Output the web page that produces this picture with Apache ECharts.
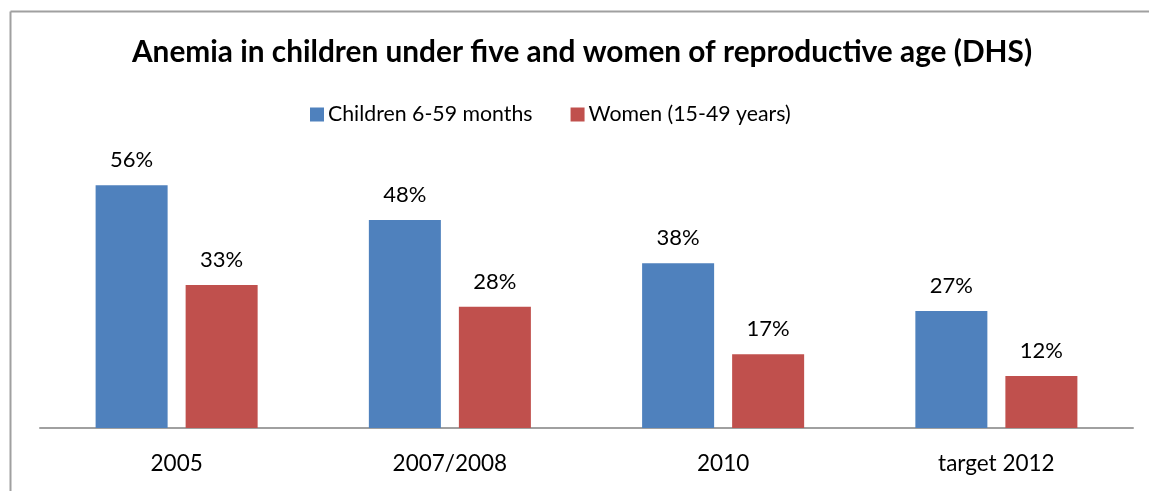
<!DOCTYPE html>
<html>
<head>
<meta charset="utf-8">
<script src="https://cdn.jsdelivr.net/npm/echarts@6/dist/echarts.min.js"></script>
<style>
html,body{margin:0;padding:0;background:#fff;}
#chart{width:1149px;height:491px;}
</style>
</head>
<body>
<div id="chart"></div>
<script>
const titleText = 'Anemia in children under five and women of reproductive age (DHS)';
const categories = ['2005', '2007/2008', '2010', 'target 2012'];
const seriesNames = ['Children 6-59 months', 'Women (15-49 years)'];
const childrenValues = [56, 48, 38, 27];
const womenValues = [33, 28, 17, 12];

const chart = echarts.init(document.getElementById('chart'), null, {renderer: 'canvas'});
const labelCfg = {
  show: true,
  position: 'top',
  distance: 14,
  formatter: p => p.value + '%',
  color: '#000',
  fontFamily: 'Lato',
  fontSize: 22
};
chart.setOption({
  animation: false,
  backgroundColor: '#fff',
  title: {
    text: titleText,
    left: 582,
    textAlign: 'center',
    top: 37,
    padding: 0,
    textStyle: {fontFamily: 'Lato', fontWeight: 'bold', fontSize: 29.8, color: '#000'}
  },
  legend: {
    left: 310,
    top: 104,
    padding: 0,
    itemWidth: 14,
    itemHeight: 14,
    itemGap: 38,
    icon: 'rect',
    textStyle: {fontFamily: 'Lato', fontSize: 21.3, color: '#000', padding: [0, 0, 0, -1]},
    data: seriesNames
  },
  grid: {left: 40, right: 16, top: 168, bottom: 63, containLabel: false},
  xAxis: {
    type: 'category',
    data: categories,
    axisLine: {show: true, lineStyle: {color: '#a0a0a0', width: 2}},
    axisTick: {show: false},
    axisLabel: {margin: 24, color: '#000', fontFamily: 'Lato', fontSize: 22.5}
  },
  yAxis: {
    type: 'value',
    min: 0,
    max: 60,
    show: false,
    splitLine: {show: false}
  },
  series: [
    {
      name: seriesNames[0],
      type: 'bar',
      data: childrenValues,
      itemStyle: {color: '#4F81BD'},
      barGap: '25%',
      barCategoryGap: '40.7%',
      label: labelCfg
    },
    {
      name: seriesNames[1],
      type: 'bar',
      data: womenValues,
      itemStyle: {color: '#C0504D'},
      barGap: '25%',
      barCategoryGap: '40.7%',
      label: labelCfg
    }
  ],
  graphic: [
    {type: 'line', silent: true, shape: {x1: 10.5, y1: 11.5, x2: 1149, y2: 11.5}, style: {stroke: '#a0a0a0', lineWidth: 2}},
    {type: 'line', silent: true, shape: {x1: 10.5, y1: 11.5, x2: 10.5, y2: 491}, style: {stroke: '#a0a0a0', lineWidth: 2}}
  ]
});
</script>
</body>
</html>
